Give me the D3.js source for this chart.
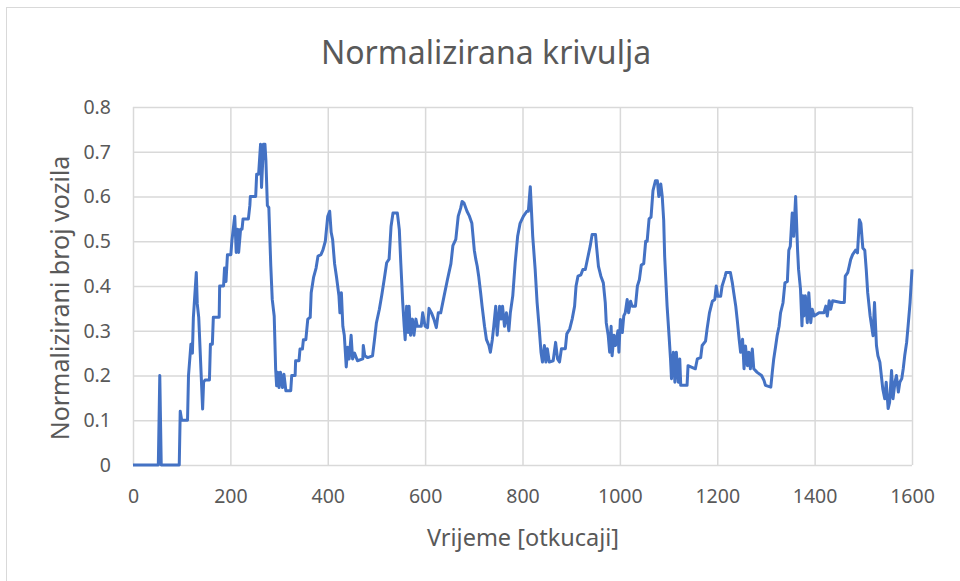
<!doctype html>
<html>
<head>
    <meta charset="utf-8">
    <title>Normalizirana krivulja</title>
    <style>
        body { margin: 0; background: #fff; }
        text { font-family: "Noto Sans", "Open Sans", sans-serif; fill: #595959; }
    </style>
    <script src="https://cdn.jsdelivr.net/npm/d3@7"></script>
</head>
<body>
<svg width="960" height="581"></svg>
<script>
// time steps (otkucaji) and normalised vehicle count
var vrijeme = [0,52,55,58,95,97,100,112,114,119,122,124,130,132,135,143,145,148,157,159,163,165,177,178,186,188,191,194,201,203,
    209,212,215,217,221,224,226,237,240,241,252,254,258,262,264,268,271,273,276,279,283,286,290,293,295,298,300,303,307,310,
    314,324,326,333,334,341,343,348,350,355,359,364,366,371,376,380,386,390,395,400,404,407,410,414,418,423,425,428,431,434,
    438,441,444,448,451,455,461,472,473,476,482,492,496,500,506,511,516,521,526,530,534,543,547,550,554,557,559,562,565,567,
    570,574,577,581,584,592,595,600,605,608,613,618,623,627,632,639,646,653,657,663,668,673,676,680,686,691,696,701,704,707,
    710,714,717,722,726,731,734,738,741,745,748,753,756,759,763,767,772,775,780,785,790,795,802,809,812,816,818,821,826,830,
    834,838,841,845,848,851,855,863,868,872,876,880,888,891,897,902,907,910,914,920,924,929,934,939,943,950,952,956,961,966,
    970,972,976,979,982,984,988,991,996,998,1001,1005,1008,1011,1015,1018,1022,1025,1032,1036,1040,1044,1049,1053,1056,1060,1064,1068,1073,1077,
    1080,1084,1087,1090,1092,1097,1101,1104,1106,1110,1113,1116,1120,1123,1125,1138,1140,1155,1159,1166,1169,1176,1179,1184,1190,1195,1198,1201,1207,1210,
    1216,1218,1227,1231,1234,1238,1241,1245,1248,1252,1255,1258,1262,1265,1268,1272,1275,1282,1291,1296,1299,1310,1313,1316,1320,1323,1327,1330,1335,1339,
    1344,1347,1350,1354,1357,1361,1365,1367,1371,1374,1376,1378,1381,1385,1388,1392,1395,1399,1409,1419,1423,1426,1430,1433,1437,1454,1461,1463,1468,1471,
    1474,1478,1484,1488,1492,1495,1499,1503,1506,1509,1514,1520,1523,1527,1530,1534,1537,1540,1544,1547,1551,1554,1558,1561,1565,1568,1572,1575,1579,1582,
    1585,1589,1592,1596,1600];
var brojVozila = [0,0,0.2,0,0,0.12,0.10,0.10,0.2,0.27,0.25,0.33,0.43,0.36,0.33,0.125,0.185,0.19,0.19,0.27,0.27,0.33,0.33,0.40,0.40,
    0.44,0.41,0.47,0.47,0.50,0.556,0.475,0.527,0.475,0.527,0.527,0.55,0.55,0.58,0.60,0.60,0.65,0.65,0.717,0.62,0.717,0.717,0.68,0.58,0.575,
    0.445,0.37,0.333,0.214,0.177,0.207,0.173,0.207,0.173,0.203,0.166,0.166,0.2,0.2,0.233,0.233,0.259,0.259,0.28,0.28,0.326,0.33,0.385,0.42,
    0.44,0.467,0.47,0.48,0.5,0.556,0.567,0.52,0.504,0.45,0.42,0.378,0.34,0.385,0.31,0.29,0.219,0.263,0.237,0.29,0.237,0.25,0.233,0.237,0.267,
    0.244,0.24,0.244,0.28,0.318,0.348,0.38,0.415,0.452,0.46,0.533,0.563,0.563,0.526,0.452,0.363,0.31,0.28,0.355,0.296,0.355,0.29,0.326,0.29,
    0.326,0.31,0.31,0.34,0.31,0.307,0.35,0.34,0.326,0.307,0.34,0.34,0.378,0.415,0.45,0.49,0.504,0.556,0.574,0.589,0.585,0.567,0.556,0.54,
    0.48,0.46,0.444,0.422,0.385,0.355,0.31,0.28,0.267,0.252,0.28,0.31,0.355,0.29,0.355,0.326,0.355,0.31,0.34,0.30,0.34,0.378,0.452,0.511,
    0.54,0.556,0.567,0.567,0.622,0.578,0.511,0.437,0.363,0.31,0.252,0.23,0.267,0.23,0.26,0.23,0.233,0.274,0.237,0.23,0.26,0.26,0.293,0.304,
    0.326,0.355,0.4,0.422,0.425,0.437,0.437,0.463,0.489,0.515,0.515,0.489,0.444,0.422,0.407,0.363,0.318,0.29,0.252,0.31,0.244,0.29,0.267,
    0.30,0.252,0.325,0.296,0.333,0.34,0.37,0.34,0.366,0.355,0.355,0.4,0.414,0.447,0.45,0.5,0.5,0.55,0.554,0.613,0.635,0.635,0.6,0.628,
    0.6,0.547,0.466,0.355,0.289,0.237,0.193,0.252,0.185,0.252,0.185,0.237,0.178,0.178,0.222,0.215,0.237,0.24,0.267,0.277,0.303,0.34,0.366,
    0.37,0.4,0.377,0.377,0.4,0.421,0.43,0.43,0.407,0.384,0.355,0.325,0.281,0.252,0.281,0.215,0.266,0.222,0.252,0.215,0.259,0.215,0.207,
    0.2,0.189,0.178,0.174,0.207,0.237,0.266,0.289,0.31,0.34,0.362,0.407,0.41,0.48,0.489,0.563,0.511,0.6,0.48,0.437,0.393,0.311,0.378,
    0.333,0.378,0.318,0.385,0.318,0.348,0.333,0.34,0.34,0.355,0.333,0.367,0.348,0.367,0.363,0.363,0.422,0.43,0.444,0.459,0.47,0.48,0.474,
    0.548,0.54,0.485,0.48,0.437,0.385,0.333,0.289,0.363,0.267,0.244,0.23,0.2,0.17,0.148,0.185,0.126,0.14,0.211,0.148,0.185,0.2,0.163,
    0.185,0.193,0.215,0.244,0.274,0.311,0.363,0.437];
var xTicks = [0,200,400,600,800,1000,1200,1400,1600];
var yTicks = [0,0.1,0.2,0.3,0.4,0.5,0.6,0.7,0.8];

var svg = d3.select("svg"),
    margin = { top: 107, right: 48, bottom: 116, left: 133 },
    width = +svg.attr("width") - margin.left - margin.right,
    height = +svg.attr("height") - margin.top - margin.bottom;

// chart frame (cut off at right and bottom in the original)
svg.append("rect")
    .attr("x", 6.5).attr("y", 7.5)
    .attr("width", 970).attr("height", 600)
    .attr("fill", "none").attr("stroke", "#d9d9d9");

var g = svg.append("g").attr("transform", "translate(" + margin.left + "," + margin.top + ")");

var x = d3.scaleLinear().domain([0, 1600]).range([0, width]);
var y = d3.scaleLinear().domain([0, 0.8]).range([height, 0]);

var xAxis = d3.axisBottom(x).tickValues(xTicks).tickSize(-height).tickPadding(24).tickFormat(d3.format("d"));
var yAxis = d3.axisLeft(y).tickValues(yTicks).tickSize(-width).tickPadding(22)
    .tickFormat(function(d) { return d === 0 ? "0" : d3.format(".1f")(d); });

function styleAxis(sel) {
    sel.select(".domain").remove();
    sel.selectAll(".tick line").attr("stroke", "#d9d9d9").attr("stroke-width", 1.5);
    sel.selectAll(".tick text").attr("fill", "#595959").style("font-size", "19.5px")
        .style("font-family", "\"Noto Sans\", sans-serif");
}

g.append("g").attr("transform", "translate(0," + height + ")").call(xAxis).call(styleAxis);
g.append("g").call(yAxis).call(styleAxis);

var line = d3.line()
    .x(function(d, i) { return x(vrijeme[i]); })
    .y(function(d) { return y(d); });

g.append("path")
    .datum(brojVozila)
    .attr("fill", "none")
    .attr("stroke", "#4472c4")
    .attr("stroke-width", 3)
    .attr("stroke-linejoin", "round")
    .attr("d", line);

svg.append("text")
    .attr("x", 486).attr("y", 64)
    .attr("text-anchor", "middle")
    .style("font-size", "32px")
    .text("Normalizirana krivulja");

svg.append("text")
    .attr("x", 523).attr("y", 546)
    .attr("text-anchor", "middle")
    .style("font-size", "23.5px")
    .text("Vrijeme [otkucaji]");

svg.append("text")
    .attr("transform", "translate(69,298) rotate(-90)")
    .attr("text-anchor", "middle")
    .style("font-size", "25px")
    .text("Normalizirani broj vozila");
</script>
</body>
</html>
